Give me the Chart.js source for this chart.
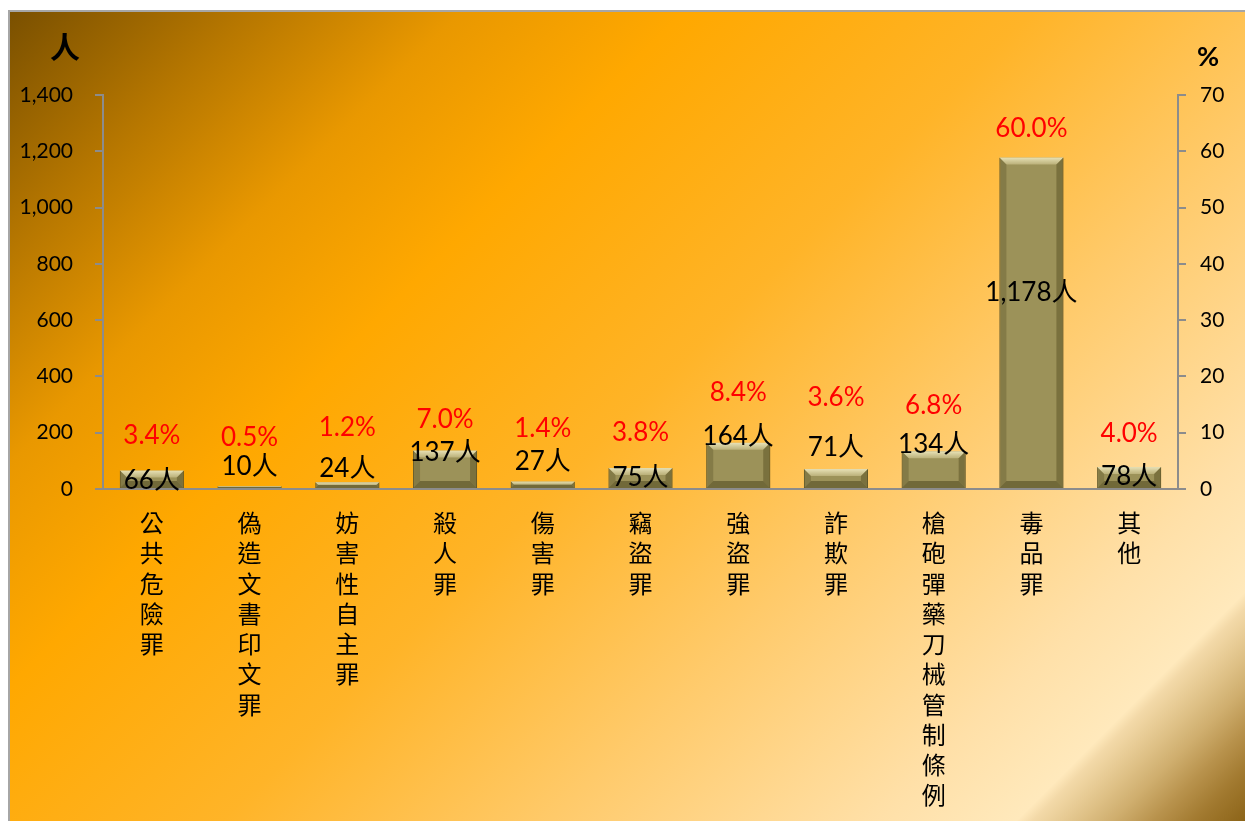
<!DOCTYPE html>
<html>
<head>
<meta charset="utf-8">
<script src="https://cdn.jsdelivr.net/npm/chart.js@4"></script>
<style>
    body { margin: 0; background: #fff; overflow: hidden; }
    #frame {
        position: absolute; left: 8px; top: 10px; width: 1237px; height: 811px;
        border-top: 2px solid #a6a6a6; border-left: 2px solid #a6a6a6; box-sizing: border-box;
        background: linear-gradient(135deg, #7a5000 0%, #b87800 12%, #e99800 22%, #ffa800 33%, #ffb428 50%, #ffca6a 66%, #ffe0a8 82%, #ffe9bc 88.8%, #f3d9a8 89.6%, #e2c58c 91.5%, #cfae6e 93.5%, #b8924c 95.5%, #a27a30 97.5%, #8c6418 100%);
    }
    canvas { position: absolute; left: 0; top: 0; }
</style>
</head>
<body>
<div id="frame"></div>
<canvas id="crimeChart" width="1245" height="821"></canvas>
<script>
// Categories and values
const categories = ['公共危險罪', '偽造文書印文罪', '妨害性自主罪', '殺人罪', '傷害罪', '竊盜罪',
    '強盜罪', '詐欺罪', '槍砲彈藥刀械管制條例', '毒品罪', '其他'];
const persons = [66, 10, 24, 137, 27, 75, 164, 71, 134, 1178, 78];
const percents = [3.4, 0.5, 1.2, 7.0, 1.4, 3.8, 8.4, 3.6, 6.8, 60.0, 4.0];
const leftTicks = [0, 200, 400, 600, 800, 1000, 1200, 1400];
const rightTicks = [0, 10, 20, 30, 40, 50, 60, 70];

const numFont = 'Lato, "Noto Sans CJK TC", sans-serif';
const cjkFont = '"Noto Sans CJK TC", sans-serif';

// Bevelled look on each bar
const bevelPlugin = {
    id: 'bevel',
    afterDatasetsDraw(chart) {
        const ctx = chart.ctx;
        chart.getDatasetMeta(0).data.forEach(bar => {
            const l = bar.x - bar.width / 2, r = bar.x + bar.width / 2;
            const t = bar.y, b = bar.base;
            const d = Math.min(7, (b - t) / 2);
            ctx.save();
            const g = ctx.createLinearGradient(0, t, 0, t + d);
            g.addColorStop(0, 'rgba(236,230,188,0.95)');
            g.addColorStop(1, 'rgba(190,180,125,0.9)');
            ctx.fillStyle = g;
            ctx.beginPath();
            ctx.moveTo(l, t); ctx.lineTo(r, t); ctx.lineTo(r - d, t + d); ctx.lineTo(l + d, t + d);
            ctx.closePath(); ctx.fill();
            ctx.fillStyle = 'rgba(105,96,48,0.45)';
            ctx.beginPath();
            ctx.moveTo(l, t); ctx.lineTo(l + d, t + d); ctx.lineTo(l + d, b - d); ctx.lineTo(l, b);
            ctx.closePath(); ctx.fill();
            ctx.fillStyle = 'rgba(95,86,40,0.55)';
            ctx.beginPath();
            ctx.moveTo(r, t); ctx.lineTo(r - d, t + d); ctx.lineTo(r - d, b - d); ctx.lineTo(r, b);
            ctx.closePath(); ctx.fill();
            ctx.fillStyle = 'rgba(85,78,36,0.6)';
            ctx.beginPath();
            ctx.moveTo(l, b); ctx.lineTo(l + d, b - d); ctx.lineTo(r - d, b - d); ctx.lineTo(r, b);
            ctx.closePath(); ctx.fill();
            ctx.restore();
        });
    }
};

// Count and percent labels, plus the two axis unit titles
const labelPlugin = {
    id: 'barLabels',
    afterDraw(chart, args, opts) {
        const ctx = chart.ctx;
        ctx.save();
        ctx.textAlign = 'center';
        ctx.textBaseline = 'middle';
        chart.getDatasetMeta(0).data.forEach((bar, i) => {
            ctx.fillStyle = '#000';
            ctx.font = '26px ' + numFont;
            ctx.fillText(persons[i].toLocaleString('en-US') + '人', bar.x, bar.y + opts.countShift[i]);
            ctx.fillStyle = '#ff0000';
            ctx.font = '26px ' + numFont;
            ctx.fillText(percents[i].toFixed(1) + '%', bar.x, bar.y + opts.pctShift[i]);
        });
        ctx.fillStyle = '#000';
        ctx.font = 'bold 30px ' + cjkFont;
        ctx.fillText('人', 65, 47);
        ctx.font = 'bold 27px ' + numFont;
        ctx.fillText('%', 1208, 57);
        ctx.restore();
    }
};

new Chart(document.getElementById('crimeChart'), {
    type: 'bar',
    data: {
        labels: categories.map(c => Array.from(c)),
        datasets: [{
            data: persons,
            yAxisID: 'y',
            backgroundColor: '#9c9259',
            borderColor: '#625b2c',
            borderWidth: 1,
            categoryPercentage: 1,
            barPercentage: 0.655
        }]
    },
    options: {
        responsive: false,
        animation: false,
        devicePixelRatio: 1,
        layout: { padding: { top: 95, left: 0, right: 0, bottom: 0 } },
        plugins: {
            legend: { display: false },
            tooltip: { enabled: false },
            barLabels: {
                countShift: [10, -20, -14, 2, -20, 10, -6, -21, -7, 135, 10],
                pctShift: [-35, -49, -55, -31, -53, -35, -50, -71, -46, -29, -33]
            }
        },
        scales: {
            x: {
                grid: { display: false },
                border: { display: true, color: '#8c8c8c', width: 2 },
                ticks: {
                    color: '#000',
                    font: { family: cjkFont, size: 24, lineHeight: 1.26 },
                    padding: 11,
                    maxRotation: 0,
                    autoSkip: false
                },
                afterFit(scale) { scale.height = 332; }
            },
            y: {
                position: 'left',
                min: 0,
                max: 1400,
                afterBuildTicks(scale) { scale.ticks = leftTicks.map(v => ({ value: v })); },
                grid: { drawOnChartArea: false, drawTicks: true, tickLength: 8, color: '#8c8c8c', lineWidth: 2 },
                border: { display: true, color: '#8c8c8c', width: 2 },
                ticks: {
                    color: '#000',
                    font: { family: numFont, size: 21 },
                    padding: 22,
                    callback: v => v.toLocaleString('en-US')
                },
                afterFit(scale) { scale.width = 103; }
            },
            y2: {
                position: 'right',
                min: 0,
                max: 70,
                afterBuildTicks(scale) { scale.ticks = rightTicks.map(v => ({ value: v })); },
                grid: { drawOnChartArea: false, drawTicks: true, tickLength: 8, color: '#8c8c8c', lineWidth: 2 },
                border: { display: true, color: '#8c8c8c', width: 2 },
                ticks: {
                    color: '#000',
                    font: { family: numFont, size: 21 },
                    padding: 14
                },
                afterFit(scale) { scale.width = 67; }
            }
        }
    },
    plugins: [bevelPlugin, labelPlugin]
});
</script>
</body>
</html>
